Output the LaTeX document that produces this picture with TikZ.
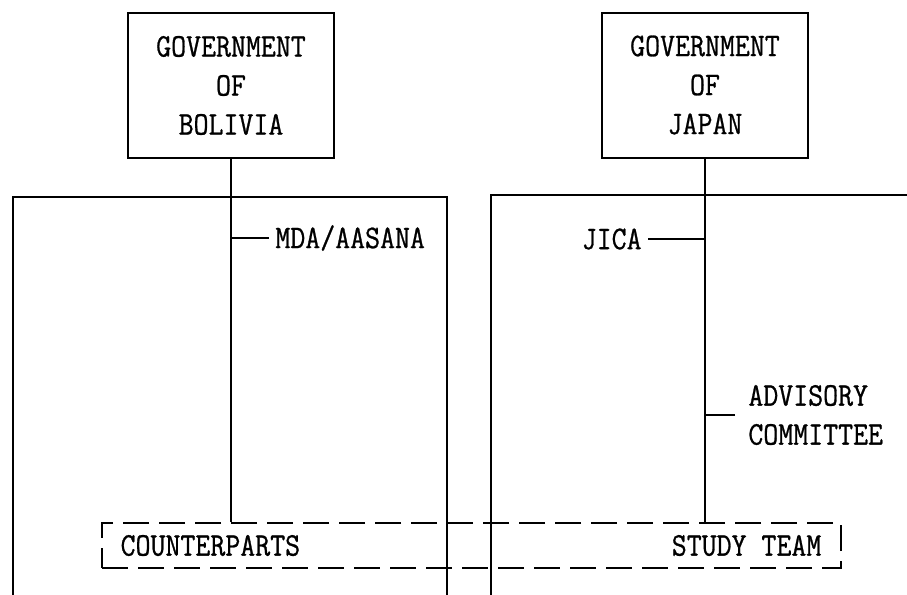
\documentclass[tikz,border=0pt]{standalone}
\usepackage{fontspec}
\setmonofont[FakeStretch=0.88, FakeBold=0.8]{Latin Modern Mono}
\begin{document}
\begin{tikzpicture}[x=0.5pt, y=-0.5pt,
    every node/.style={font=\ttfamily\fontsize{16.5}{19.5}\selectfont, inner sep=3pt},
    gobierno/.style={draw, line width=1pt, minimum width=103pt, minimum height=72.5pt, align=center},
    rama/.style={line width=1pt},
    ramita/.style={line width=0.7pt},
    equipo/.style={draw, dash pattern=on 13pt off 5pt, line width=0.75pt, minimum width=369.5pt, minimum height=22.5pt}
  ]
  \useasboundingbox (0,0) rectangle (907,595);
  % Gobiernos arriba, cada uno sobre su panel
  \node[gobierno] (gb) at (231,85.5) {GOVERNMENT\\OF\\BOLIVIA};
  \node[gobierno] (gj) at (705,85) {GOVERNMENT\\OF\\JAPAN};
  % Paneles abiertos por abajo
  \draw[rama] (13,595) |- (447,197) -- (447,595);
  \draw[rama] (491,595) |- (907,195);
  % Caja discontinua común con los dos equipos
  \node[equipo] (eq) at (471.5,545.5) {};
  \node[anchor=west] (cp) at ([xshift=6.5pt]eq.west) {COUNTERPARTS};
  \node[anchor=east] (st) at ([xshift=-7pt]eq.east) {STUDY TEAM};
  % Líneas verticales de mando
  \draw[rama] (gb.south) -- (gb.south |- eq.north);
  \draw[rama] (gj.south) -- (gj.south |- eq.north);
  % Organismos intermedios con su rama corta
  \node[anchor=west] (mda) at (269,238) {MDA/AASANA};
  \draw[ramita] (mda.west) -- (mda.west -| gb.south);
  \node[anchor=east] (jica) at (648,239) {JICA};
  \draw[ramita] (jica.east) -- (jica.east -| gj.south);
  \node[anchor=west, align=left, inner xsep=6.5pt] (ac) at (735,415) {ADVISORY\\COMMITTEE};
  \draw[ramita] (ac.west) -- (ac.west -| gj.south);
\end{tikzpicture}
\end{document}
